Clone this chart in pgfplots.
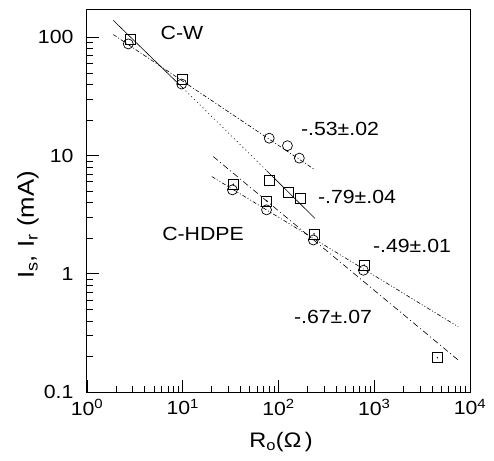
\documentclass[border=0pt]{standalone}
\usepackage{fontspec}
\setmainfont[FakeStretch=1.12]{Liberation Sans}
\usepackage{pgfplots}
\pgfplotsset{compat=1.18}

\newcommand{\lbl}{\fontsize{19}{22}\selectfont}

\begin{document}
\begin{tikzpicture}
\useasboundingbox (-87pt,-68pt) rectangle (407pt,392pt);
\begin{axis}[
    scale only axis,
    width=383pt, height=382pt,
    xmode=log, ymode=log,
    xmin=1, xmax=10000, ymin=0.1, ymax=170,
    xtick={1,10,100,1000,10000},
    xticklabels={10\textsuperscript{0},10\textsuperscript{1},10\textsuperscript{2},10\textsuperscript{3},10\textsuperscript{4}},
    ytick={0.1,1,10,100},
    yticklabels={0.1,1,10,100},
    xtick pos=bottom, ytick pos=left,
    tick align=inside,
    major tick length=12pt, minor tick length=6pt,
    every tick/.style={black, line width=0.6pt},
    axis line style={line width=1pt},
    tick label style={font=\lbl},
    xticklabel style={yshift=-4pt},
    yticklabel style={xshift=-10pt},
    clip=false,
]
% C-W
\addplot[only marks, mark=o, mark size=5pt, line width=0.7pt] coordinates {
    (2.7,87.8) (9.75,40.2) (80,14.0) (124,12.1) (165,9.5)
};
\addplot[only marks, mark=square, mark size=5pt, line width=0.7pt] coordinates {
    (2.81,95.6) (9.9,44.3) (80,6.14) (126.5,4.89) (168,4.35)
};
% C-HDPE
\addplot[only marks, mark=o, mark size=5pt, line width=0.7pt] coordinates {
    (33,5.12) (75,3.47) (231,1.93) (770,1.07)
};
\addplot[only marks, mark=square, mark size=5pt, line width=0.7pt] coordinates {
    (33.7,5.71) (75.3,4.13) (235,2.17) (787,1.18) (4560,0.195)
};
\addplot[only marks, mark=*, mark size=0.5pt] coordinates {
    (33.7,5.71) (75.3,4.13) (235,2.17) (787,1.18) (4560,0.195)
};

% fits
\addplot[no marks, line width=0.6pt, dash pattern=on 4pt off 2pt on 1pt off 2pt] coordinates {
    (1.88,105.4) (240,7.57)
};
\addplot[no marks, line width=0.6pt] coordinates {(1.88,139) (10,37.3)};
\addplot[no marks, line width=0.6pt, dash pattern=on 1pt off 3pt] coordinates {(10,37.3) (75,7.46)};
\addplot[no marks, line width=0.6pt] coordinates {(75,7.46) (240,2.94)};
\addplot[no marks, line width=0.6pt, dash pattern=on 4pt off 2pt on 1pt off 2pt on 1pt off 2pt] coordinates {
    (20.1,6.64) (7550,0.356)
};
\addplot[no marks, line width=0.6pt, dash pattern=on 6pt off 3pt on 1pt off 3pt] coordinates {
    (20.8,9.8) (7550,0.186)
};

\node[font=\lbl] at (axis cs:9.8,108) {C-W};
\node[font=\lbl] at (axis cs:16.3,2.18) {C-HDPE};
\node[font=\lbl] at (axis cs:439,16.9) {-.53±.02};
\node[font=\lbl] at (axis cs:661,4.5) {-.79±.04};
\node[font=\lbl] at (axis cs:2478,1.73) {-.49±.01};
\node[font=\lbl] at (axis cs:371,0.432) {-.67±.07};
\end{axis}
\node[rotate=90, anchor=base, inner sep=0pt, font=\fontsize{23}{26}\selectfont] at (-53pt,167pt)
    {I\textsubscript{s}, I\textsubscript{r} (mA)};
\node[anchor=base, inner sep=0pt, font=\fontsize{21}{24}\selectfont] at (194pt,-55pt)
    {R\textsubscript{o}(Ω\,)};
\end{tikzpicture}
\end{document}
